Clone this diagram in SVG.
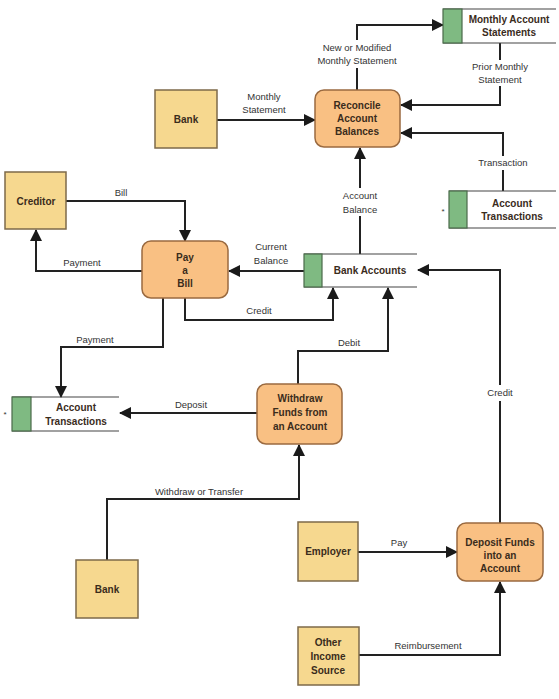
<svg xmlns="http://www.w3.org/2000/svg" width="559" height="699" viewBox="0 0 559 699">
<defs>
<marker id="ah" markerUnits="userSpaceOnUse" markerWidth="12" markerHeight="12" viewBox="0 0 12 12" refX="11" refY="6" orient="auto">
<path d="M0,0 L12,6 L0,12 Z" fill="#1a1a1a"/>
</marker>
<style>
.ent{fill:#F6D88F;stroke:#7d6a4a;stroke-width:1.5}
.proc{fill:#F9C083;stroke:#9a6a40;stroke-width:1.5}
.grn{fill:#7FBA82;stroke:#4a6a4a;stroke-width:1.2}
.sl{stroke:#444;stroke-width:1.2;fill:none}
.nt{font-family:"Liberation Sans Narrow","Liberation Sans",Arial,sans-serif;font-weight:bold;font-size:10px;fill:#3a2c1c;text-anchor:middle}
.lb{font-family:"Liberation Sans Narrow","Liberation Sans",Arial,sans-serif;font-size:9.5px;fill:#333;text-anchor:middle}
.c{stroke:#222;stroke-width:2;fill:none;marker-end:url(#ah)}
</style>
</defs>
<rect width="559" height="699" fill="#fff"/>
<g id="connectors">
<path class="c" d="M357,90 V25 H443"/>
<path class="c" d="M500,43 V105 H401"/>
<path class="c" d="M503,191 V133 H401"/>
<path class="c" d="M217,120 H315"/>
<path class="c" d="M360,254 V148"/>
<path class="c" d="M66,201 H185 V241"/>
<path class="c" d="M142,271 H36 V230"/>
<path class="c" d="M304,271 H229"/>
<path class="c" d="M185,298 V320 H333 V288"/>
<path class="c" d="M163,298 V347 H61 V397"/>
<path class="c" d="M257,413 H120"/>
<path class="c" d="M298,384 V351 H388 V288"/>
<path class="c" d="M500,523 V270 H418"/>
<path class="c" d="M107,560 V499 H299 V445"/>
<path class="c" d="M358,552 H457"/>
<path class="c" d="M359,655 H500 V582"/>
</g>
<g id="labels">
<rect x="318" y="40" width="80" height="28" fill="#fff"/>
<text class="lb" x="357" y="51">New or Modified</text>
<text class="lb" x="357" y="64">Monthly Statement</text>
<rect x="470" y="60" width="60" height="26" fill="#fff"/>
<text class="lb" x="500" y="70">Prior Monthly</text>
<text class="lb" x="500" y="83">Statement</text>
<rect x="474" y="156" width="58" height="14" fill="#fff"/>
<text class="lb" x="503" y="166">Transaction</text>
<text class="lb" x="264" y="100">Monthly</text>
<text class="lb" x="264" y="113">Statement</text>
<rect x="338" y="188" width="44" height="28" fill="#fff"/>
<text class="lb" x="360" y="199">Account</text>
<text class="lb" x="360" y="213">Balance</text>
<text class="lb" x="121" y="196">Bill</text>
<text class="lb" x="82" y="266">Payment</text>
<text class="lb" x="271" y="250">Current</text>
<text class="lb" x="271" y="264">Balance</text>
<text class="lb" x="259" y="314">Credit</text>
<text class="lb" x="95" y="343">Payment</text>
<text class="lb" x="191" y="408">Deposit</text>
<text class="lb" x="349" y="346">Debit</text>
<rect x="484" y="385" width="32" height="16" fill="#fff"/>
<text class="lb" x="500" y="396">Credit</text>
<text class="lb" x="199" y="495">Withdraw or Transfer</text>
<text class="lb" x="399" y="546">Pay</text>
<text class="lb" x="428" y="649">Reimbursement</text>
</g>
<g id="monthly-account-statements">
<line class="sl" x1="443" y1="9" x2="556" y2="9"/>
<line class="sl" x1="443" y1="43" x2="556" y2="43"/>
<rect class="grn" x="443" y="9" width="19" height="34"/>
<text class="nt" x="509" y="23">Monthly Account</text>
<text class="nt" x="509" y="36">Statements</text>
</g>
<g id="reconcile">
<rect class="proc" x="315" y="90" width="85" height="57" rx="9"/>
<text class="nt" x="357" y="109">Reconcile</text>
<text class="nt" x="357" y="122">Account</text>
<text class="nt" x="357" y="135">Balances</text>
</g>
<g id="bank-top">
<rect class="ent" x="155" y="90" width="62" height="58"/>
<text class="nt" x="186" y="123">Bank</text>
</g>
<g id="account-transactions-right">
<line class="sl" x1="449" y1="191" x2="556" y2="191"/>
<line class="sl" x1="449" y1="228" x2="556" y2="228"/>
<rect class="grn" x="449" y="191" width="18" height="37"/>
<text class="nt" x="512" y="207">Account</text>
<text class="nt" x="512" y="220">Transactions</text>
<text class="lb" x="443" y="214" style="font-size:8px">*</text>
</g>
<g id="creditor">
<rect class="ent" x="5" y="172" width="61" height="57"/>
<text class="nt" x="36" y="205">Creditor</text>
</g>
<g id="pay-a-bill">
<rect class="proc" x="142" y="241" width="86" height="57" rx="9"/>
<text class="nt" x="185" y="261">Pay</text>
<text class="nt" x="185" y="274">a</text>
<text class="nt" x="185" y="287">Bill</text>
</g>
<g id="bank-accounts">
<line class="sl" x1="304" y1="254" x2="417" y2="254"/>
<line class="sl" x1="304" y1="287" x2="417" y2="287"/>
<rect class="grn" x="304" y="254" width="18" height="33"/>
<text class="nt" x="370" y="274">Bank Accounts</text>
</g>
<g id="account-transactions-left">
<line class="sl" x1="12" y1="397" x2="119" y2="397"/>
<line class="sl" x1="12" y1="431" x2="119" y2="431"/>
<rect class="grn" x="12" y="397" width="19" height="34"/>
<text class="nt" x="76" y="411">Account</text>
<text class="nt" x="76" y="425">Transactions</text>
<text class="lb" x="5" y="417" style="font-size:8px">*</text>
</g>
<g id="withdraw-funds">
<rect class="proc" x="257" y="384" width="85" height="60" rx="9"/>
<text class="nt" x="300" y="402">Withdraw</text>
<text class="nt" x="300" y="416">Funds from</text>
<text class="nt" x="300" y="430">an Account</text>
</g>
<g id="bank-bottom">
<rect class="ent" x="76" y="560" width="62" height="58"/>
<text class="nt" x="107" y="593">Bank</text>
</g>
<g id="employer">
<rect class="ent" x="298" y="522" width="60" height="59"/>
<text class="nt" x="328" y="555">Employer</text>
</g>
<g id="deposit-funds">
<rect class="proc" x="457" y="523" width="86" height="58" rx="9"/>
<text class="nt" x="500" y="546">Deposit Funds</text>
<text class="nt" x="500" y="559">into an</text>
<text class="nt" x="500" y="572">Account</text>
</g>
<g id="other-income-source">
<rect class="ent" x="298" y="627" width="61" height="58"/>
<text class="nt" x="328" y="646">Other</text>
<text class="nt" x="328" y="660">Income</text>
<text class="nt" x="328" y="674">Source</text>
</g>
</svg>
